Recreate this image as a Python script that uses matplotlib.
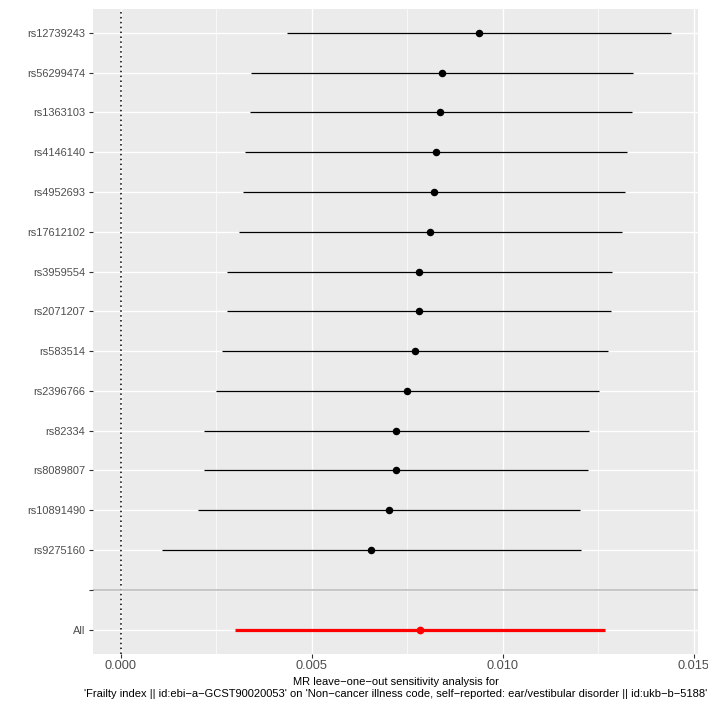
import matplotlib
matplotlib.use("Agg")
import matplotlib.pyplot as plt
import numpy as np

plt.rcParams['font.family'] = ['Liberation Sans', 'DejaVu Sans']

# ---- data (top to bottom) ----
snps = ["rs12739243", "rs56299474", "rs1363103", "rs4146140", "rs4952693",
        "rs17612102", "rs3959554", "rs2071207", "rs583514", "rs2396766",
        "rs82334", "rs8089807", "rs10891490", "rs9275160"]
b = [0.00937, 0.00842, 0.00837, 0.00825, 0.00820, 0.00810, 0.00781,
     0.00780, 0.00769, 0.00750, 0.00721, 0.00720, 0.00701, 0.00655]
lo = [0.00435, 0.00342, 0.00337, 0.00324, 0.00319, 0.00310, 0.00279,
      0.00278, 0.00266, 0.00248, 0.00218, 0.00219, 0.00202, 0.00107]
hi = [0.01440, 0.01342, 0.01338, 0.01326, 0.01321, 0.01311, 0.01286,
      0.01284, 0.01275, 0.01253, 0.01227, 0.01222, 0.01202, 0.01205]
all_label = "All"
all_b, all_lo, all_hi = 0.00783, 0.00299, 0.01268

x_ticks = [0.000, 0.005, 0.010, 0.015]
x_ticklabels = ["0.000", "0.005", "0.010", "0.015"]
x_minor = [0.0025, 0.0075, 0.0125]
title = ("MR leave\u2212one\u2212out sensitivity analysis for\n"
         "'Frailty index || id:ebi\u2212a\u2212GCST90020053' on 'Non\u2212cancer illness code, "
         "self\u2212reported: ear/vestibular disorder || id:ukb\u2212b\u22125188'")

# levels bottom to top: All, "", snps reversed
levels = [all_label, ""] + snps[::-1]
ypos = {lab: i for i, lab in enumerate(levels)}

W = H = 708
fig = plt.figure(figsize=(W / 100, H / 100), dpi=100)
left, right, top, bottom = 93.3, 698.3, 9.0, 653.5
ax = fig.add_axes([left / W, (H - bottom) / H, (right - left) / W, (bottom - top) / H])
ax.set_facecolor("#EBEBEB")
for s in ax.spines.values():
    s.set_visible(False)

ax.set_xlim(-0.00072, 0.01512)
ax.set_ylim(-0.6, len(levels) - 1 + 0.6)

# grid
for xm in x_minor:
    ax.axvline(xm, color="white", lw=0.5, zorder=0.5)
for xt in x_ticks:
    ax.axvline(xt, color="white", lw=1.0, zorder=0.6)
for i in range(len(levels)):
    ax.axhline(i, color="white", lw=1.0, zorder=0.6)

# zero line and separator
ax.axvline(0, color="black", lw=1.1, ls=(0, (1.0, 2.2)), zorder=1)
ax.axhline(ypos[""], color="#BEBEBE", lw=1.2, zorder=1)

# SNP rows
ys = [ypos[s] for s in snps]
ax.hlines(ys, lo, hi, color="black", lw=0.9, zorder=2)
ax.plot(b, ys, "o", color="black", ms=4.4, zorder=3)

# All row
ax.hlines([ypos[all_label]], [all_lo], [all_hi], color="red", lw=2.3, zorder=2)
ax.plot([all_b], [ypos[all_label]], "o", color="red", ms=4.6, zorder=3)

ax.set_yticks(range(len(levels)))
ax.set_yticklabels(levels, fontsize=7.9, color="#4D4D4D")
ax.set_xticks(x_ticks)
ax.set_xticklabels(x_ticklabels, fontsize=9.2, color="#4D4D4D")
ax.tick_params(axis="both", length=2.8, width=0.8, color="#333333")
ax.tick_params(axis="y", pad=3.0)
ax.tick_params(axis="x", pad=2.2)

ax.set_xlabel(title, fontsize=8.05, color="black", labelpad=3, linespacing=1.25)

fig.savefig("out.png", dpi=100, facecolor="white")
